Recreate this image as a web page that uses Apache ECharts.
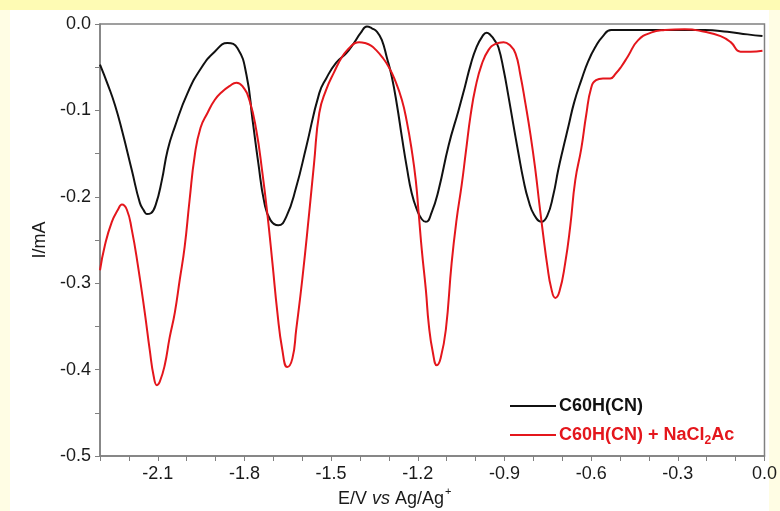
<!DOCTYPE html>
<html><head><meta charset="utf-8">
<script src="https://cdn.jsdelivr.net/npm/echarts@6/dist/echarts.min.js"></script>
<style>html,body{margin:0;padding:0;}#c{width:780px;height:511px;}</style>
</head><body><div id="c"></div>
<script>
const blackE=[-2.300,-2.272,-2.248,-2.224,-2.190,-2.162,-2.148,-2.138,-2.124,-2.107,-2.086,-2.066,-2.041,-1.997,-1.948,-1.903,-1.859,-1.824,-1.793,-1.772,-1.752,-1.731,-1.710,-1.683,-1.655,-1.621,-1.586,-1.541,-1.517,-1.483,-1.448,-1.421,-1.397,-1.376,-1.359,-1.341,-1.324,-1.307,-1.290,-1.272,-1.255,-1.238,-1.221,-1.203,-1.186,-1.172,-1.152,-1.128,-1.093,-1.059,-1.038,-1.017,-0.997,-0.976,-0.962,-0.948,-0.934,-0.921,-0.903,-0.886,-0.869,-0.852,-0.834,-0.817,-0.797,-0.772,-0.752,-0.731,-0.714,-0.697,-0.679,-0.659,-0.634,-0.610,-0.586,-0.559,-0.531,-0.438,-0.300,-0.207,-0.128,-0.059,-0.007];
const blackI=[-0.047,-0.071,-0.094,-0.123,-0.169,-0.207,-0.216,-0.220,-0.219,-0.209,-0.181,-0.146,-0.119,-0.080,-0.050,-0.032,-0.022,-0.028,-0.059,-0.111,-0.161,-0.207,-0.227,-0.233,-0.223,-0.189,-0.142,-0.080,-0.063,-0.045,-0.034,-0.022,-0.010,-0.003,-0.005,-0.009,-0.019,-0.039,-0.061,-0.094,-0.131,-0.166,-0.196,-0.215,-0.226,-0.229,-0.218,-0.192,-0.140,-0.100,-0.074,-0.047,-0.027,-0.014,-0.010,-0.013,-0.019,-0.027,-0.053,-0.084,-0.117,-0.149,-0.181,-0.204,-0.221,-0.229,-0.222,-0.198,-0.169,-0.144,-0.119,-0.091,-0.065,-0.043,-0.027,-0.014,-0.007,-0.007,-0.007,-0.007,-0.009,-0.012,-0.014];
const redE=[-2.300,-2.283,-2.259,-2.238,-2.224,-2.207,-2.190,-2.169,-2.145,-2.128,-2.114,-2.103,-2.093,-2.076,-2.059,-2.041,-2.024,-2.007,-1.990,-1.972,-1.952,-1.928,-1.903,-1.879,-1.852,-1.828,-1.807,-1.783,-1.759,-1.738,-1.721,-1.703,-1.686,-1.669,-1.652,-1.634,-1.621,-1.600,-1.576,-1.559,-1.541,-1.517,-1.490,-1.462,-1.438,-1.417,-1.403,-1.383,-1.362,-1.345,-1.324,-1.300,-1.279,-1.255,-1.238,-1.221,-1.207,-1.197,-1.186,-1.172,-1.162,-1.148,-1.134,-1.121,-1.103,-1.083,-1.066,-1.048,-1.034,-1.017,-1.000,-0.979,-0.955,-0.931,-0.903,-0.883,-0.862,-0.845,-0.828,-0.810,-0.793,-0.779,-0.766,-0.752,-0.738,-0.724,-0.710,-0.690,-0.672,-0.655,-0.634,-0.617,-0.600,-0.583,-0.559,-0.534,-0.514,-0.497,-0.472,-0.438,-0.393,-0.345,-0.276,-0.207,-0.152,-0.117,-0.083,-0.048,-0.007];
const redI=[-0.285,-0.256,-0.229,-0.215,-0.209,-0.215,-0.238,-0.279,-0.334,-0.377,-0.408,-0.418,-0.414,-0.395,-0.363,-0.334,-0.296,-0.258,-0.204,-0.152,-0.120,-0.103,-0.088,-0.079,-0.072,-0.068,-0.072,-0.088,-0.123,-0.172,-0.219,-0.277,-0.334,-0.377,-0.397,-0.387,-0.354,-0.296,-0.219,-0.161,-0.103,-0.076,-0.056,-0.038,-0.028,-0.022,-0.021,-0.022,-0.025,-0.030,-0.038,-0.050,-0.065,-0.088,-0.113,-0.146,-0.181,-0.219,-0.262,-0.308,-0.348,-0.380,-0.395,-0.387,-0.354,-0.277,-0.227,-0.186,-0.149,-0.105,-0.073,-0.047,-0.030,-0.023,-0.021,-0.024,-0.034,-0.059,-0.091,-0.128,-0.169,-0.209,-0.244,-0.279,-0.306,-0.317,-0.310,-0.277,-0.233,-0.181,-0.144,-0.105,-0.074,-0.065,-0.063,-0.063,-0.057,-0.050,-0.037,-0.019,-0.010,-0.007,-0.006,-0.009,-0.014,-0.021,-0.032,-0.032,-0.031];
const seriesNames=['C60H(CN)','C60H(CN) + NaCl2Ac'];
const xTickLabels=['-2.1','-1.8','-1.5','-1.2','-0.9','-0.6','-0.3','0.0'];
const yTickLabels=['0.0','-0.1','-0.2','-0.3','-0.4','-0.5'];

const zip=(a,b)=>a.map((v,i)=>[v,b[i]]);
const FONT='"Liberation Sans", Arial, sans-serif';
const chart=echarts.init(document.getElementById('c'),null,{renderer:'canvas'});
const axisCol='#808080';
chart.setOption({
  animation:false,
  backgroundColor:'#fffde4',
  graphic:[
    {type:'rect',z:-10,shape:{x:0,y:0,width:780,height:10},style:{fill:'#fefbb4'}},
    {type:'rect',z:-10,shape:{x:10,y:10,width:759,height:501},style:{fill:'#ffffff'}},
    {type:'text',left:338,top:486,style:{
      text:'{n|E/V }{i|vs}{n| Ag/Ag}{s|+}',
      rich:{n:{fontSize:18,fontFamily:FONT,fill:'#1a1a1a',lineHeight:22,verticalAlign:'bottom'},
            i:{fontSize:18,fontFamily:FONT,fontStyle:'italic',fill:'#1a1a1a',lineHeight:22,verticalAlign:'bottom'},
            s:{fontSize:11,fontFamily:FONT,fill:'#1a1a1a',lineHeight:22,verticalAlign:'top',padding:[0,0,12,1]}}
    }},
    {type:'text',x:40,y:240,rotation:Math.PI/2,style:{text:'I/mA',fontSize:18,fontFamily:FONT,fill:'#1a1a1a',align:'center',verticalAlign:'middle'}}
  ],
  grid:{left:100,right:13,top:24,bottom:55,show:true,borderColor:axisCol,borderWidth:1.5,backgroundColor:'transparent'},
  xAxis:{type:'value',min:-2.3,max:0,interval:0.1,
    axisLine:{show:true,onZero:false,lineStyle:{color:axisCol,width:1.5}},
    axisTick:{show:true,length:5,lineStyle:{color:axisCol,width:1}},
    splitLine:{show:false},
    axisLabel:{fontSize:18,fontFamily:FONT,color:'#1a1a1a',margin:9,showMinLabel:true,showMaxLabel:true,
      formatter:function(v){const s=v.toFixed(1);return xTickLabels.indexOf(s)>=0?s:'';}}
  },
  yAxis:{type:'value',min:-0.5,max:0,interval:0.05,
    axisLine:{show:true,onZero:false,lineStyle:{color:axisCol,width:1.5}},
    axisTick:{show:true,length:5,lineStyle:{color:axisCol,width:1}},
    splitLine:{show:false},
    axisLabel:{fontSize:18,fontFamily:FONT,color:'#1a1a1a',margin:9,
      formatter:function(v){const s=v.toFixed(1)==='-0.0'?'0.0':v.toFixed(1);const k=Math.round(v*100);return (k%10===0&&yTickLabels.indexOf(s)>=0)?s:'';}}
  },
  legend:{orient:'vertical',left:505,top:392,itemWidth:46,itemHeight:12,itemGap:8,
    icon:'path://M0,5 L46,5 L46,7 L0,7 Z',
    textStyle:{fontSize:18,fontWeight:'bold',fontFamily:FONT,padding:[0,0,0,-2],
      rich:{b:{fontSize:18,fontWeight:'bold',fontFamily:FONT,color:'#e4161c',lineHeight:20},
            sub:{fontSize:12,fontWeight:'bold',fontFamily:FONT,color:'#e4161c',lineHeight:20,padding:[12,0,0,0]}}},
    formatter:function(n){return n.indexOf('NaCl2')>=0?'{b|C60H(CN) + NaCl}{sub|2}{b|Ac}':n;},
    data:[{name:seriesNames[0],textStyle:{color:'#111'}},{name:seriesNames[1],textStyle:{color:'#e4161c'}}]
  },
  series:[
    {name:seriesNames[0],type:'line',data:zip(blackE,blackI),symbol:'none',smooth:0.5,
      lineStyle:{color:'#111',width:2},itemStyle:{color:'#111'}},
    {name:seriesNames[1],type:'line',data:zip(redE,redI),symbol:'none',smooth:0.5,
      lineStyle:{color:'#e4161c',width:2},itemStyle:{color:'#e4161c'}}
  ]
});
</script></body></html>
